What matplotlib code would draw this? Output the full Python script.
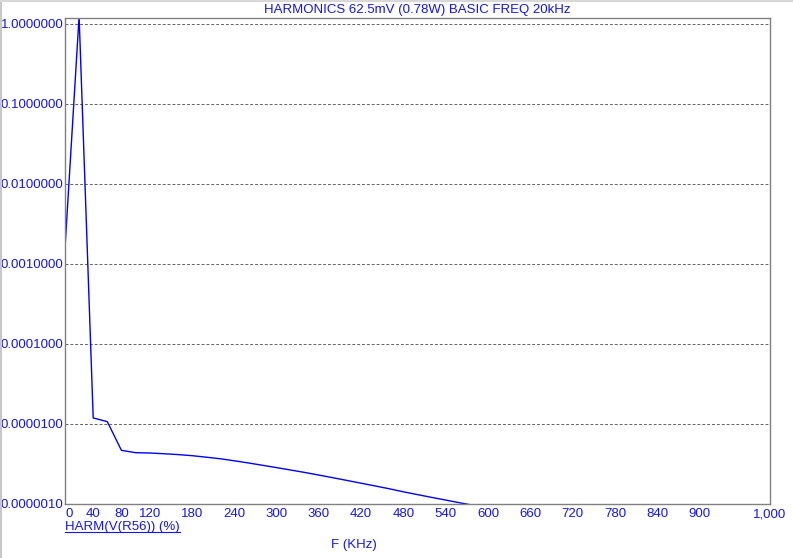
import matplotlib
matplotlib.use('agg')
import matplotlib.pyplot as plt
from matplotlib.lines import Line2D

# harmonic spectrum, 20 kHz fundamental
freq_khz = [0, 20, 40, 60, 80, 100, 120, 140, 160, 180, 200, 220, 240, 260, 280,
            300, 320, 340, 360, 380, 400, 420, 440, 460, 480, 500, 520, 540, 560,
            580, 600, 640, 700, 800, 900, 1000]
harm_pct = [1.58e-3, 1.25, 1.19e-5, 1.07e-5, 4.69e-6, 4.38e-6, 4.34e-6, 4.25e-6,
            4.15e-6, 4.02e-6, 3.85e-6, 3.68e-6, 3.47e-6, 3.26e-6, 3.05e-6, 2.85e-6,
            2.66e-6, 2.48e-6, 2.30e-6, 2.13e-6, 1.97e-6, 1.82e-6, 1.68e-6, 1.55e-6,
            1.42e-6, 1.31e-6, 1.21e-6, 1.12e-6, 1.035e-6, 0.96e-6, 0.89e-6,
            0.76e-6, 0.6e-6, 0.4e-6, 0.27e-6, 0.18e-6]

xticks = [0, 40, 80, 120, 180, 240, 300, 360, 420, 480, 540, 600, 660, 720, 780, 840, 900, 1000]
xlabels = ['0', '40', '80', '120', '180', '240', '300', '360', '420', '480', '540',
           '600', '660', '720', '780', '840', '900', '1,000']
yticks = [1e-6, 1e-5, 1e-4, 1e-3, 1e-2, 1e-1, 1.0]
ylabels = ['%.7f' % v for v in yticks]

blue = '#1414ff'
plt.rcParams['font.family'] = ['Liberation Sans', 'DejaVu Sans']
plt.rcParams['font.size'] = 9.5

fig = plt.figure(figsize=(7.93, 5.58), dpi=100)
ax = fig.add_axes([65/793, 1-504/558, 705/793, 486/558])

ax.plot(freq_khz, harm_pct, color='#0000ff', lw=1.0)
ax.set_yscale('log')
ax.set_xlim(0, 1000)
ax.set_ylim(1e-6, 10 ** (6/80))

ax.set_xticks(xticks)
ax.set_xticklabels(xlabels, color=blue)
ax.get_xticklabels()[0].set_ha('left')
ax.set_yticks(yticks)
ax.set_yticklabels(ylabels, color=blue)
ax.minorticks_off()
ax.tick_params(length=0, pad=3)
ax.tick_params(axis='y', pad=1)

ax.grid(axis='y', linestyle=(0, (3, 2)), color='#666666', lw=0.7)
for s in ax.spines.values():
    s.set_color('#808080')
    s.set_linewidth(1.0)

fig.text(417/793, 1-10/558, 'HARMONICS 62.5mV (0.78W) BASIC FREQ 20kHz',
         color=blue, ha='center', va='center')
lab = fig.text(65/793, 1-527/558, 'HARM(V(R56)) (%)', color=blue, ha='left', va='center')
fig.text(354/793, 1-545/558, 'F (KHz)', color=blue, ha='center', va='center')

# underline the trace name
fig.canvas.draw()
bb = lab.get_window_extent().transformed(fig.transFigure.inverted())
fig.add_artist(Line2D([bb.x0, bb.x1], [bb.y0 + 0.002, bb.y0 + 0.002], color=blue, lw=0.8))

# window edge
fig.add_artist(Line2D([0.5/793, 0.5/793], [0, 1], color='#c8c8c8', lw=1.5))
fig.add_artist(Line2D([0, 1], [1-1/558, 1-1/558], color='#d8d8d8', lw=1.5))

fig.savefig('out.png', dpi=100)
